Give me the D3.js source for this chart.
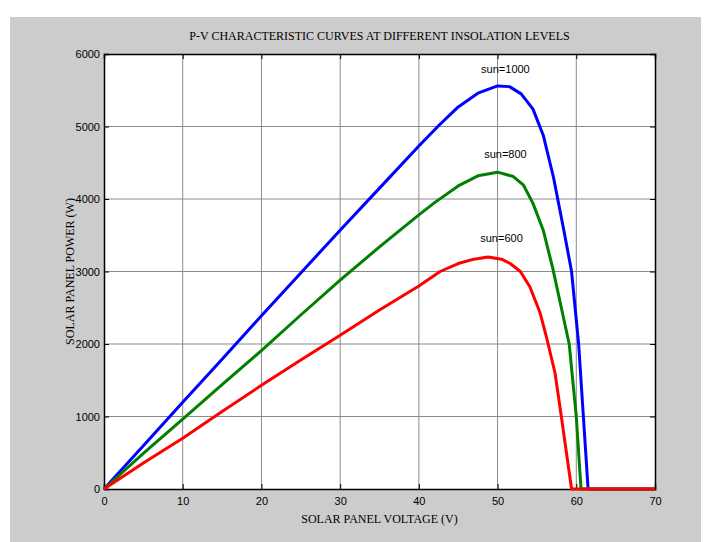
<!DOCTYPE html>
<html lang="en">

<head>
    <meta charset="UTF-8">
    <title>P-V characteristic curves</title>
    <style>
        * {
            margin: 0;
            padding: 0;
        }

        html,
        body {
            overflow: hidden;
            background: #fff;
        }
    </style>
</head>

<body>
    <div id="chart"></div>
    <script src="https://cdn.jsdelivr.net/npm/d3@7"></script>
    <script>
        // data: voltage (V) / power (W)
        const sun1000V = [0, 5, 10, 15, 20, 25, 30, 35, 40, 42.5, 45, 47.5, 50, 51.5, 53, 54.5, 55.8, 57.1, 58.4, 59.4, 60.3, 60.9, 61.5, 70]
        const sun1000P = [0, 595, 1195, 1790, 2390, 2980, 3570, 4150, 4730, 5010, 5270, 5460, 5560, 5550, 5450, 5240, 4880, 4300, 3580, 3000, 2000, 1000, 0, 0]

        const sun800V = [0, 5, 10, 15, 20, 25, 30, 35, 40, 42, 45, 47.5, 50, 52, 53.3, 54.5, 55.8, 57, 58.1, 59.1, 60, 60.6, 70]
        const sun800P = [0, 490, 965, 1440, 1910, 2400, 2880, 3340, 3780, 3950, 4180, 4320, 4370, 4310, 4190, 3940, 3570, 3050, 2500, 2000, 1000, 0, 0]

        const sun600V = [0, 5, 10, 15, 20, 25, 30, 35, 40, 42.7, 45, 47, 48.8, 50.5, 51.6, 52.9, 54.1, 55.4, 56.2, 57.3, 58.1, 59.4, 70]
        const sun600P = [0, 360, 700, 1070, 1430, 1780, 2120, 2470, 2800, 3000, 3110, 3170, 3200, 3170, 3110, 3000, 2790, 2430, 2100, 1600, 1000, 0, 0]

        const seriesNames = ['sun=1000', 'sun=800', 'sun=600']
        const labelV = [51, 51, 50.5]
        const labelP = [5740, 4560, 3410]

        const xTicks = [0, 10, 20, 30, 40, 50, 60, 70]
        const yTicks = [0, 1000, 2000, 3000, 4000, 5000, 6000]

        function drawChart() {
            const width = 710
            const height = 542
            const colors = ['#0000ff', '#008000', '#ff0000']

            const svg = d3.select('#chart')
                .append('svg')
                .attr('width', width)
                .attr('height', height)

            // gray figure background
            svg.append('rect')
                .attr('x', 10)
                .attr('y', 17)
                .attr('width', 691)
                .attr('height', height - 17)
                .attr('fill', '#cccccc')

            const left = 104, right = 655, top = 54, bottom = 489
            const x = d3.scaleLinear().domain([0, 70]).range([left, right])
            const y = d3.scaleLinear().domain([0, 6000]).range([bottom, top])

            svg.append('rect')
                .attr('x', left)
                .attr('y', top)
                .attr('width', right - left)
                .attr('height', bottom - top)
                .attr('fill', '#fff')

            // grid
            svg.append('g')
                .selectAll('line')
                .data(xTicks.slice(1, -1))
                .join('line')
                .attr('x1', d => x(d))
                .attr('x2', d => x(d))
                .attr('y1', top)
                .attr('y2', bottom)
                .attr('stroke', '#8a8a8a')
                .attr('stroke-width', 1)

            svg.append('g')
                .selectAll('line')
                .data(yTicks.slice(1, -1))
                .join('line')
                .attr('x1', left)
                .attr('x2', right)
                .attr('y1', d => y(d))
                .attr('y2', d => y(d))
                .attr('stroke', '#8a8a8a')
                .attr('stroke-width', 1)

            // axes with inward ticks on all four sides
            const tickFont = (g) => g.selectAll('text')
                .attr('font-family', 'Liberation Sans, Arial, sans-serif')
                .attr('font-size', 11)
                .attr('fill', '#000')

            const xAxis = svg.append('g')
                .attr('transform', `translate(0,${bottom})`)
                .call(d3.axisBottom(x).tickValues(xTicks).tickSize(-5).tickPadding(8).tickFormat(d3.format('d')))
            xAxis.call(tickFont)

            const yAxis = svg.append('g')
                .attr('transform', `translate(${left},0)`)
                .call(d3.axisLeft(y).tickValues(yTicks).tickSize(-5).tickPadding(4).tickFormat(d3.format('d')))
            yAxis.call(tickFont)

            svg.append('g')
                .attr('transform', `translate(0,${top})`)
                .call(d3.axisTop(x).tickValues(xTicks).tickSize(-5).tickFormat(''))
            svg.append('g')
                .attr('transform', `translate(${right},0)`)
                .call(d3.axisRight(y).tickValues(yTicks).tickSize(-5).tickFormat(''))

            svg.selectAll('.domain').attr('stroke', '#000').attr('stroke-width', 1.5)
            svg.selectAll('.tick line').attr('stroke', '#000')

            // curves
            const line = d3.line()
                .x(d => x(d[0]))
                .y(d => y(d[1]))

            const allV = [sun1000V, sun800V, sun600V]
            const allP = [sun1000P, sun800P, sun600P]

            allV.forEach((vs, i) => {
                const pts = vs.map((v, j) => [v, allP[i][j]])
                svg.append('path')
                    .datum(pts)
                    .attr('d', line)
                    .attr('fill', 'none')
                    .attr('stroke', colors[i])
                    .attr('stroke-width', 3)
                    .attr('stroke-linejoin', 'round')
            })

            svg.selectAll('text.lbl')
                .data(seriesNames)
                .join('text')
                .attr('class', 'lbl')
                .attr('x', (d, i) => x(labelV[i]))
                .attr('y', (d, i) => y(labelP[i]))
                .attr('text-anchor', 'middle')
                .attr('font-family', 'Liberation Sans, Arial, sans-serif')
                .attr('font-size', 11)
                .text(d => d)

            // titles
            svg.append('text')
                .attr('x', (left + right) / 2)
                .attr('y', 40)
                .attr('text-anchor', 'middle')
                .attr('font-family', 'Liberation Serif, Times New Roman, serif')
                .attr('font-size', 12)
                .text('P-V CHARACTERISTIC CURVES AT DIFFERENT INSOLATION LEVELS')

            svg.append('text')
                .attr('x', (left + right) / 2)
                .attr('y', 523)
                .attr('text-anchor', 'middle')
                .attr('font-family', 'Liberation Serif, Times New Roman, serif')
                .attr('font-size', 12)
                .text('SOLAR PANEL VOLTAGE (V)')

            svg.append('text')
                .attr('transform', `translate(74,${(top + bottom) / 2}) rotate(-90)`)
                .attr('text-anchor', 'middle')
                .attr('font-family', 'Liberation Serif, Times New Roman, serif')
                .attr('font-size', 12)
                .text('SOLAR PANEL POWER (W)')
        }

        drawChart()
    </script>
</body>

</html>
